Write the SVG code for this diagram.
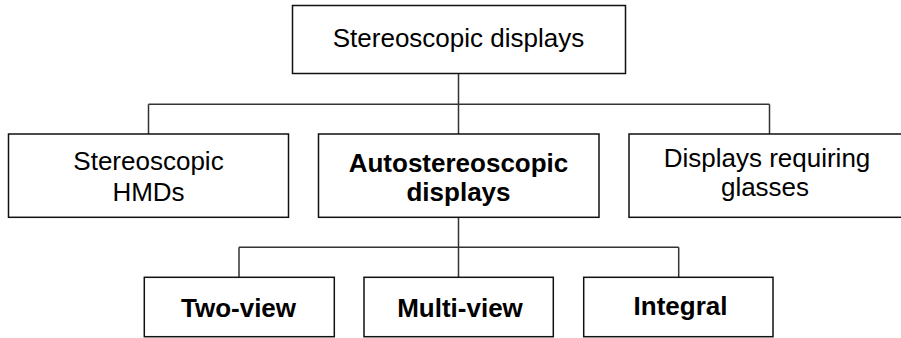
<svg xmlns="http://www.w3.org/2000/svg" width="901" height="338" viewBox="0 0 901 338">
<style>
.box{fill:#fff;stroke:#111;stroke-width:1.5}
.con{fill:none;stroke:#333;stroke-width:1.5}
text{font-family:"Liberation Sans",Arial,sans-serif;font-size:26px;fill:#000;text-anchor:middle}
.b{font-weight:bold}
</style>
<rect width="901" height="338" fill="#fff"/>
<g id="connectors">
<path class="con" d="M458.5,73.5V134M148.5,104.3H769.5M148.5,104.3V134M769.5,104.3V134"/>
<path class="con" d="M458.5,217.3V277.3M239,247.3H678.7M239,247.3V277.3M678.7,247.3V277.3"/>
</g>
<g id="root">
<rect class="box" x="292.5" y="5.5" width="333" height="68"/>
<text x="458.5" y="46.5">Stereoscopic displays</text>
</g>
<g id="hmds">
<rect class="box" x="8.5" y="134" width="280" height="83.3"/>
<text x="148.5" y="170">Stereoscopic</text>
<text x="148.5" y="201">HMDs</text>
</g>
<g id="auto">
<rect class="box" x="318.5" y="134" width="280.5" height="83.3"/>
<text class="b" x="458.5" y="171.5">Autostereoscopic</text>
<text class="b" x="458.5" y="201">displays</text>
</g>
<g id="glasses">
<rect class="box" x="629" y="134" width="280" height="83.3"/>
<text x="767" y="166.5">Displays requiring</text>
<text x="765" y="196">glasses</text>
</g>
<g id="twoview">
<rect class="box" x="144.3" y="277.3" width="190" height="59.4"/>
<text class="b" x="238.5" y="317">Two-view</text>
</g>
<g id="multiview">
<rect class="box" x="364" y="277.3" width="189.3" height="59.4"/>
<text class="b" x="460" y="317">Multi-view</text>
</g>
<g id="integral">
<rect class="box" x="583.7" y="277.3" width="189.3" height="59.4"/>
<text class="b" x="680.5" y="315">Integral</text>
</g>
</svg>
